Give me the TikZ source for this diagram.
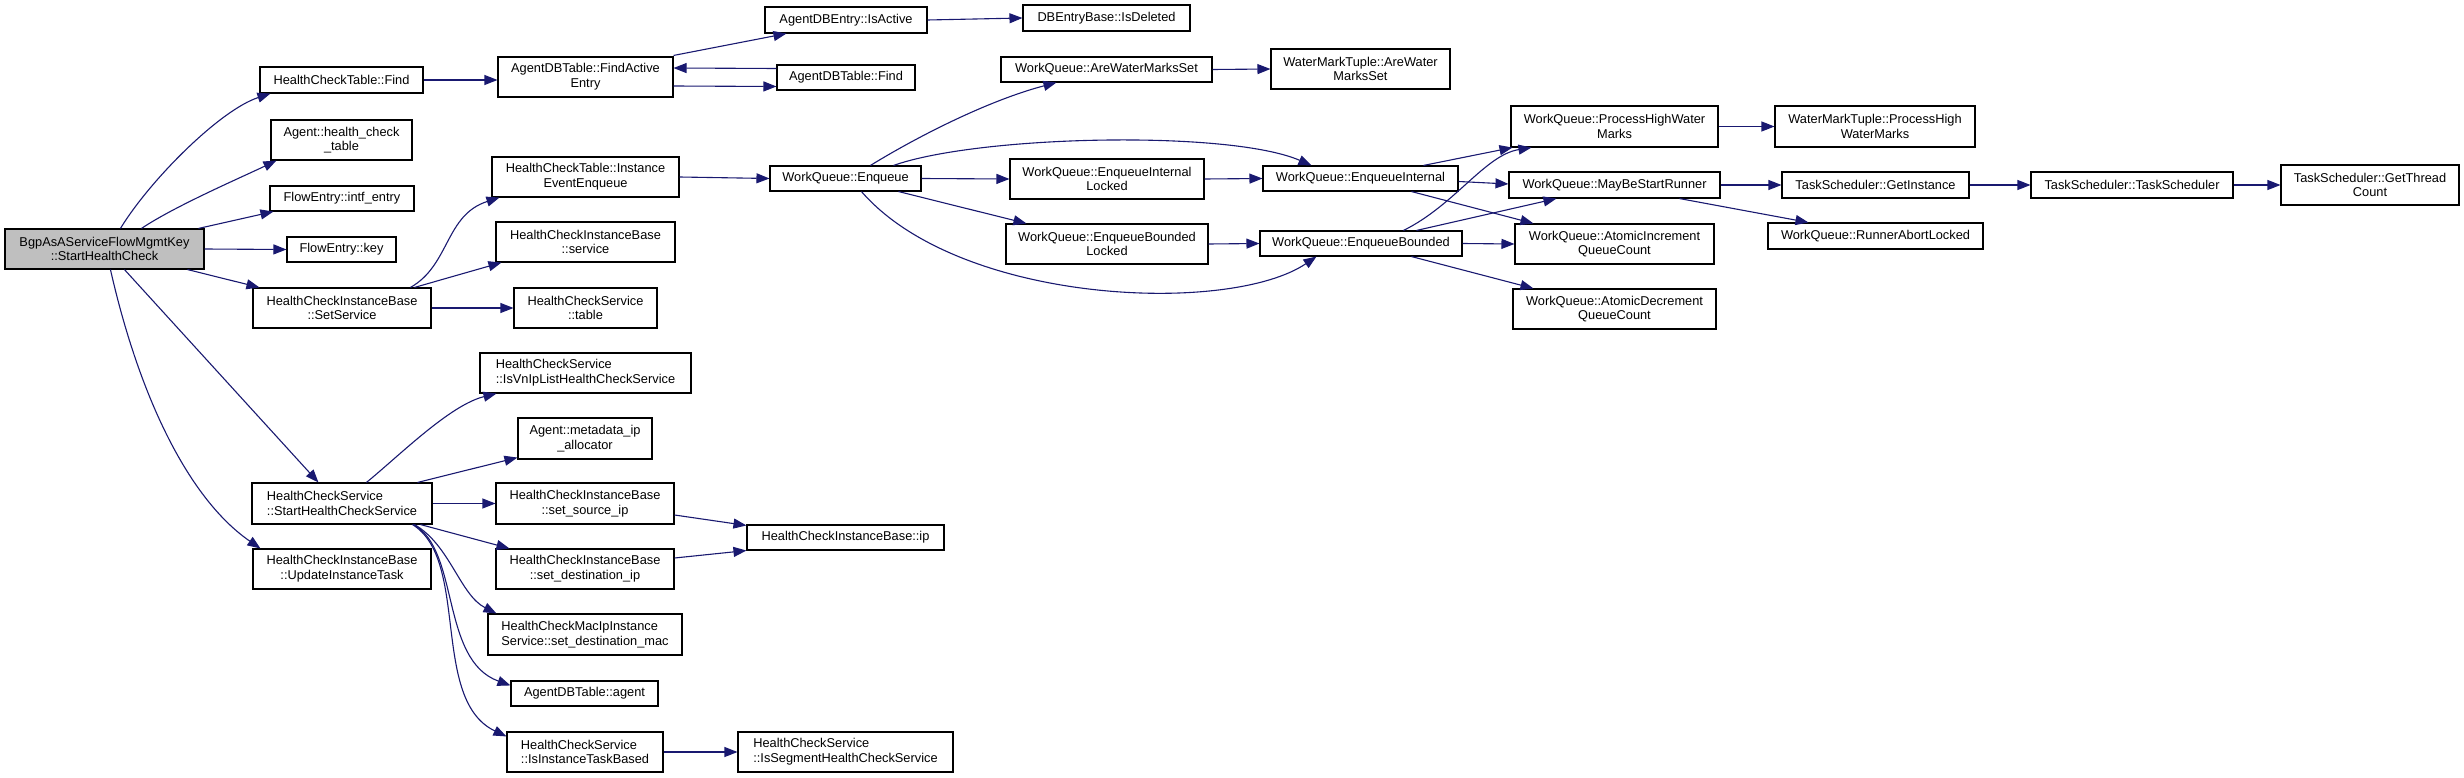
\documentclass[tikz,border=0pt]{standalone}
\usepackage{fontspec}
\setmainfont{Liberation Sans}
\usetikzlibrary{arrows.meta}
\definecolor{edgeblue}{RGB}{25,25,112}
\definecolor{rootgray}{RGB}{191,191,191}
\tikzset{
  box/.style={draw=black, line width=1.1pt, fill=white, inner sep=0pt, align=center,
    font=\fontsize{12.8}{14.7}\selectfont},
  lbox/.style={box, align=left},
  edge/.style={draw=edgeblue, line width=1.1pt, -{Triangle[length=13pt,width=10pt]}}
}
\newcommand\bx[6][]{\node[box,minimum width=#5pt,minimum height=#6pt,#1] (#2) at (#3,#4)}
\begin{document}
\begin{tikzpicture}[x=1pt,y=-1pt]
\useasboundingbox (0,0) rectangle (2464,778);
% column 1
\bx[fill=rootgray]{root}{104.5}{249}{199}{40} {BgpAsAServiceFlowMgmtKey\\::StartHealthCheck};
\bx{hctfind}{341.5}{80}{163}{26} {HealthCheckTable::Find};
\bx{agenthct}{341.5}{140}{141}{40} {Agent::health\_check\\\_table};
\bx{intf}{342}{198.5}{144}{25} {FlowEntry::intf\_entry};
\bx{key}{341.5}{249.5}{109}{25} {FlowEntry::key};
\bx{setsvc}{342}{308}{178}{40} {HealthCheckInstanceBase\\::SetService};
\bx[align=left]{startsvc}{342}{503.5}{180}{41} {HealthCheckService\\::StartHealthCheckService};
\bx{update}{342}{569}{178}{40} {HealthCheckInstanceBase\\::UpdateInstanceTask};
% column 2
\bx{findactive}{585.5}{77}{175}{40} {AgentDBTable::FindActive\\Entry};
\bx{iee}{585.5}{177}{187}{40} {HealthCheckTable::Instance\\EventEnqueue};
\bx{hcibsvc}{585.5}{242}{179}{40} {HealthCheckInstanceBase\\::service};
\bx{hcstable}{585.5}{308}{143}{40} {HealthCheckService\\::table};
\bx[align=left]{isvnip}{585.5}{373}{211}{40} {HealthCheckService\\::IsVnIpListHealthCheckService};
\bx{metadata}{585}{438.5}{134}{41} {Agent::metadata\_ip\\\_allocator};
\bx{srcip}{585}{503.5}{178}{41} {HealthCheckInstanceBase\\::set\_source\_ip};
\bx{dstip}{585}{569}{178}{40} {HealthCheckInstanceBase\\::set\_destination\_ip};
\bx[align=left]{dstmac}{585}{634.5}{194}{41} {HealthCheckMacIpInstance\\Service::set\_destination\_mac};
\bx{agent}{584.5}{693.5}{147}{25} {AgentDBTable::agent};
\bx[align=left]{itb}{585}{752}{156}{40} {HealthCheckService\\::IsInstanceTaskBased};
% column 3
\bx{isactive}{846}{20}{162}{26} {AgentDBEntry::IsActive};
\bx{adbfind}{846}{77.5}{138}{25} {AgentDBTable::Find};
\bx{enqueue}{845.5}{178.5}{151}{25} {WorkQueue::Enqueue};
\bx{ip}{845.5}{537.5}{197}{25} {HealthCheckInstanceBase::ip};
\bx[align=left]{segment}{845.5}{752}{215}{40} {HealthCheckService\\::IsSegmentHealthCheckService};
% column 4
\bx{isdeleted}{1106.5}{18}{167}{26} {DBEntryBase::IsDeleted};
\bx{arewms}{1106.5}{69.5}{211}{25} {WorkQueue::AreWaterMarksSet};
\bx{eil}{1107}{179}{194}{40} {WorkQueue::EnqueueInternal\\Locked};
\bx{ebl}{1107}{244}{202}{40} {WorkQueue::EnqueueBounded\\Locked};
% column 5
\bx{wmtare}{1360.5}{69}{179}{40} {WaterMarkTuple::AreWater\\MarksSet};
\bx{ei}{1360.5}{178.5}{195}{25} {WorkQueue::EnqueueInternal};
\bx{eb}{1361}{243.5}{202}{25} {WorkQueue::EnqueueBounded};
% column 6
\bx{phwm}{1614.5}{126.5}{207}{41} {WorkQueue::ProcessHighWater\\Marks};
\bx{mbsr}{1614.5}{185}{211}{26} {WorkQueue::MayBeStartRunner};
\bx{aiqc}{1614.5}{244}{199}{40} {WorkQueue::AtomicIncrement\\QueueCount};
\bx{adqc}{1614.5}{309}{203}{40} {WorkQueue::AtomicDecrement\\QueueCount};
% column 7
\bx{wmtphwm}{1875}{126.5}{200}{41} {WaterMarkTuple::ProcessHigh\\WaterMarks};
\bx{getinst}{1875.5}{185}{187}{26} {TaskScheduler::GetInstance};
\bx{runabort}{1875.5}{236}{215}{26} {WorkQueue::RunnerAbortLocked};
% column 8, 9
\bx{tsched}{2132}{185}{202}{26} {TaskScheduler::TaskScheduler};
\bx{gtc}{2370}{185}{178}{40} {TaskScheduler::GetThread\\Count};

% edges from root
\draw[edge] ([xshift=116pt]root.north west) .. controls (150,180) and (220,110) .. ([xshift=11pt]hctfind.south west);
\draw[edge] ([xshift=137pt]root.north west) .. controls (175,206) and (240,178) .. ([xshift=6pt]agenthct.south west);
\draw[edge] ([xshift=194pt]root.north west) -- ([xshift=4pt]intf.south west);
\draw[edge] (root.east) -- (key.west);
\draw[edge] ([xshift=183pt]root.south west) -- ([xshift=7pt]setsvc.north west);
\draw[edge] ([xshift=120pt]root.south west) -- ([xshift=67pt]startsvc.north west);
\draw[edge] ([xshift=106pt]root.south west) .. controls (140,400) and (190,500) .. ([xshift=8pt]update.north west);
% find chain
\draw[edge] (hctfind.east) -- (findactive.west |- hctfind.east);
\draw[edge] ([yshift=1pt]findactive.north east) -- ([xshift=22pt]isactive.south west);
\draw[edge] ([yshift=-9pt]findactive.east) -- ([yshift=-9pt]adbfind.west);
\draw[edge] ([yshift=9pt]adbfind.west) -- ([yshift=9pt]findactive.east);
\draw[edge] (isactive.east) -- (isdeleted.west);
% set service
\draw[edge] ([xshift=158pt]setsvc.north west) .. controls (450,265) and (445,215) .. ([xshift=8pt]iee.south west);
\draw[edge] ([xshift=162pt]setsvc.north west) -- ([xshift=6pt]hcibsvc.south west);
\draw[edge] (setsvc.east) -- (hcstable.west);
\draw[edge] (iee.east) -- (enqueue.west);
% enqueue
\draw[edge] ([xshift=101pt]enqueue.north west) .. controls (920,135) and (990,100) .. ([xshift=56pt]arewms.south west);
\draw[edge] ([xshift=124pt]enqueue.north west) .. controls (980,135) and (1230,130) .. ([xshift=49pt]ei.north west);
\draw[edge] (enqueue.east) -- (eil.west);
\draw[edge] ([xshift=129pt]enqueue.south west) -- ([xshift=21pt]ebl.north west);
\draw[edge] ([xshift=92pt]enqueue.south west) .. controls (960,305) and (1230,315) .. ([xshift=57pt]eb.south west);
\draw[edge] (eil.east) -- (ei.west);
\draw[edge] (ebl.east) -- (eb.west);
\draw[edge] (arewms.east) -- (wmtare.west);
% enqueue internal / bounded
\draw[edge] ([xshift=161pt]ei.north west) -- ([xshift=2pt]phwm.south west);
\draw[edge] ([yshift=-3pt]ei.east) -- ([yshift=1pt]mbsr.west);
\draw[edge] ([xshift=149pt]ei.south west) -- ([xshift=19pt]aiqc.north west);
\draw[edge] ([xshift=144pt]eb.north west) .. controls (1455,205) and (1485,155) .. ([xshift=21pt]phwm.south west);
\draw[edge] ([xshift=157pt]eb.north west) -- ([xshift=48pt]mbsr.south west);
\draw[edge] (eb.east) -- (aiqc.west);
\draw[edge] ([xshift=152pt]eb.south west) -- ([xshift=21pt]adqc.north west);
% right part
\draw[edge] (phwm.east) -- (wmtphwm.west);
\draw[edge] (mbsr.east) -- (getinst.west);
\draw[edge] ([xshift=171pt]mbsr.south west) -- ([xshift=41pt]runabort.north west);
\draw[edge] (getinst.east) -- (tsched.west);
\draw[edge] (tsched.east) -- (gtc.west);
% start health check service
\draw[edge] ([xshift=115pt]startsvc.north west) .. controls (400,455) and (450,405) .. ([xshift=17pt]isvnip.south west);
\draw[edge] ([xshift=166pt]startsvc.north west) -- ([yshift=2pt]metadata.south west);
\draw[edge] (startsvc.east) -- (srcip.west);
\draw[edge] ([xshift=169pt]startsvc.south west) -- ([xshift=14pt]dstip.north west);
\draw[edge] ([xshift=163pt]startsvc.south west) .. controls (450,545) and (460,595) .. ([xshift=9pt]dstmac.north west);
\draw[edge] ([xshift=162pt]startsvc.south west) .. controls (460,550) and (440,660) .. ([yshift=-5pt]agent.north west);
\draw[edge] ([xshift=161pt]startsvc.south west) .. controls (470,560) and (430,700) .. ([yshift=-5pt]itb.north west);
\draw[edge] ([yshift=-11.5pt]srcip.east) -- ([yshift=-1pt]ip.north west);
\draw[edge] ([yshift=11pt]dstip.east) -- (ip.south west);
\draw[edge] (itb.east) -- (segment.west);
\end{tikzpicture}
\end{document}
